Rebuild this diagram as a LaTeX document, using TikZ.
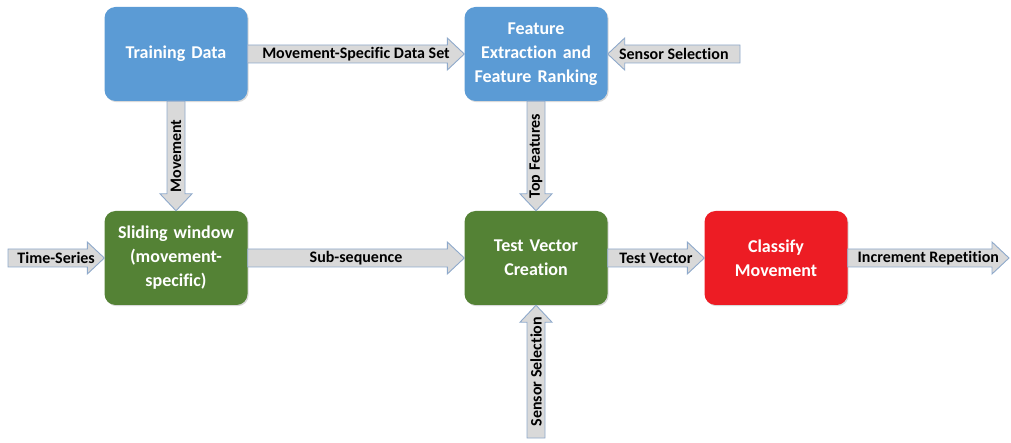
\documentclass[tikz,border=0pt]{standalone}
\usepackage{fontspec}
\setmainfont{Carlito}[Ligatures=NoCommon]
\usetikzlibrary{calc,shadows}

\definecolor{boxblue}{HTML}{5B9BD5}
\definecolor{boxgreen}{HTML}{548235}
\definecolor{boxred}{HTML}{ED1C24}
\definecolor{arrowgray}{HTML}{D9D9D9}
\definecolor{arrowedge}{HTML}{8EA9CB}

\tikzset{
  proc/.style={rounded corners=11pt, minimum width=143pt, minimum height=94pt,
    text width=136pt, align=center, inner sep=0pt, text=white,
    font=\bfseries\fontsize{18}{24}\selectfont,
    drop shadow={opacity=0.3, shadow xshift=1.2pt, shadow yshift=-1.2pt}},
  bluebox/.style={proc, fill=boxblue},
  greenbox/.style={proc, fill=boxgreen},
  redbox/.style={proc, fill=boxred},
  barrow/.style={fill=arrowgray, draw=arrowedge, line width=0.9pt, line join=miter},
  alabel/.style={font=\bfseries\fontsize{16}{18}\selectfont, text=black, inner sep=0pt},
}

% shaft half-width, head half-width, head length
\def\shaftw{9pt}
\def\headw{16pt}
\def\headl{17pt}

% \blockarrow[label options]{name}{from}{to}{label}
\newcommand\blockarrow[5][]{%
  \coordinate (#2-base) at ($(#4)!\headl!(#3)$);
  \draw[barrow]
    ($(#3)!\shaftw!90:(#4)$) -- ($(#2-base)!\shaftw!90:(#4)$)
    -- ($(#2-base)!\headw!90:(#4)$) -- (#4)
    -- ($(#2-base)!\headw!-90:(#4)$) -- ($(#2-base)!\shaftw!-90:(#4)$)
    -- ($(#3)!\shaftw!-90:(#4)$) -- cycle;
  \node[alabel,#1] (#2) at ($(#3)!0.5!(#4)$) {#5};
}

\begin{document}
\begin{tikzpicture}[x=1pt,y=-1pt]
  \useasboundingbox (0,0) rectangle (1011,443);

  % process blocks
  \node[bluebox]  (td) at (176,54)  {Training Data};
  \node[bluebox]  (fe) at (536,54)  {Feature\\Extraction and\\Feature Ranking};
  \node[greenbox] (sw) at (176,258) {Sliding window\\(movement-\\specific)};
  \node[greenbox] (tv) at (536,258) {Test Vector\\Creation};
  \node[redbox]   (cm) at (776,258) {Classify\\Movement};

  % free arrow ends
  \coordinate (tsin)  at (8,258);
  \coordinate (ssin)  at (740,54);
  \coordinate (ss2in) at (536,438);
  \coordinate (irout) at (1009,258);

  % block arrows
  \blockarrow{a-ts}{tsin}{sw.west}{Time-Series}
  \blockarrow{a-md}{td.east}{fe.west}{Movement-Specific Data Set}
  \blockarrow{a-ss}{ssin}{fe.east}{Sensor Selection}
  \blockarrow[rotate=90]{a-mv}{td.south}{sw.north}{Movement}
  \blockarrow[rotate=90]{a-tf}{fe.south}{tv.north}{Top Features}
  \blockarrow{a-sub}{sw.east}{tv.west}{Sub-sequence}
  \blockarrow{a-tv}{tv.east}{cm.west}{Test Vector}
  \blockarrow{a-ir}{cm.east}{irout}{Increment Repetition}
  \blockarrow[rotate=90]{a-ss2}{ss2in}{tv.south}{Sensor Selection}
\end{tikzpicture}
\end{document}
